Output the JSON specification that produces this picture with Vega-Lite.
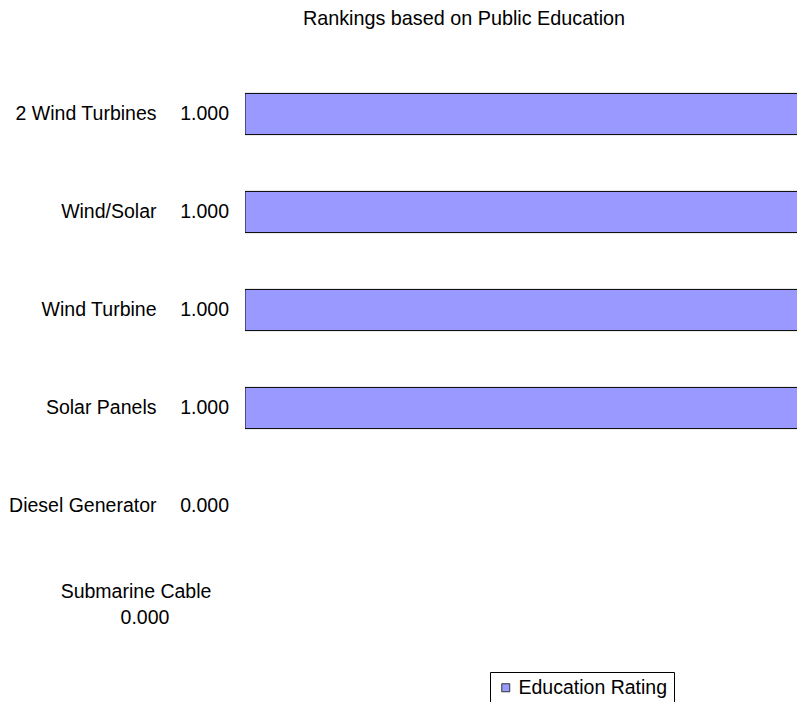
{
  "$schema": "https://vega.github.io/schema/vega-lite/v6.json",
  "autosize": "none",
  "width": 552,
  "height": 588,
  "padding": {"left": 245, "top": 65, "right": 0, "bottom": 49},
  "background": "white",
  "config": {
    "font": "Liberation Sans",
    "view": {"stroke": null}
  },
  "title": {
    "text": "Rankings based on Public Education",
    "font": "Liberation Sans",
    "fontSize": 19.8,
    "fontWeight": "normal",
    "color": "black",
    "anchor": "middle",
    "frame": "group",
    "baseline": "middle",
    "offset": 26,
    "dx": -57
  },
  "data": {
    "values": [
      {"option": "2 Wind Turbines", "rating": 1, "series": "Education Rating"},
      {"option": "Wind/Solar", "rating": 1, "series": "Education Rating"},
      {"option": "Wind Turbine", "rating": 1, "series": "Education Rating"},
      {"option": "Solar Panels", "rating": 1, "series": "Education Rating"},
      {"option": "Diesel Generator", "rating": 0, "series": "Education Rating"},
      {"option": "Submarine Cable", "rating": 0, "series": "Education Rating"}
    ]
  },
  "encoding": {
    "y": {
      "field": "option",
      "type": "nominal",
      "sort": null,
      "scale": {"paddingInner": 0.58, "paddingOuter": 0.29},
      "axis": {
        "title": null,
        "domain": false,
        "ticks": false,
        "labelFont": "Liberation Sans",
        "labelFontSize": 19.5,
        "labelColor": "black",
        "labelPadding": 89,
        "labelExpr": "datum.value == 'Submarine Cable' ? '' : datum.value"
      }
    }
  },
  "layer": [
    {
      "transform": [{"filter": "datum.rating > 0"}],
      "mark": {"type": "bar", "stroke": "black", "strokeWidth": 1, "clip": true},
      "encoding": {
        "x": {
          "field": "rating",
          "type": "quantitative",
          "scale": {"domain": [0, 0.98], "nice": false},
          "axis": null
        },
        "color": {
          "field": "series",
          "type": "nominal",
          "scale": {"range": ["#9999FF"]},
          "legend": {
            "title": null,
            "orient": "none",
            "legendX": 245,
            "legendY": 607,
            "direction": "vertical",
            "strokeColor": "black",
            "padding": 6,
            "symbolType": "square",
            "symbolSize": 64,
            "symbolStrokeColor": "#333333",
            "symbolStrokeWidth": 1,
            "symbolOpacity": 1,
            "labelFont": "Liberation Sans",
            "labelFontSize": 19.5,
            "labelColor": "black",
            "labelOffset": 3
          }
        }
      }
    },
    {
      "transform": [{"filter": "datum.option != 'Submarine Cable'"}],
      "mark": {"type": "text", "align": "right", "baseline": "middle", "dx": -16, "fontSize": 19.5, "font": "Liberation Sans", "color": "black"},
      "encoding": {
        "x": {"value": 0},
        "text": {"field": "rating", "type": "quantitative", "format": ".3f"}
      }
    },
    {
      "transform": [{"filter": "datum.option == 'Submarine Cable'"}],
      "mark": {"type": "text", "align": "center", "baseline": "middle", "dx": -109, "dy": -12, "fontSize": 19.5, "font": "Liberation Sans", "color": "black"},
      "encoding": {
        "x": {"value": 0},
        "text": {"field": "option", "type": "nominal"}
      }
    },
    {
      "transform": [{"filter": "datum.option == 'Submarine Cable'"}],
      "mark": {"type": "text", "align": "center", "baseline": "middle", "dx": -100, "dy": 14, "fontSize": 19.5, "font": "Liberation Sans", "color": "black"},
      "encoding": {
        "x": {"value": 0},
        "text": {"field": "rating", "type": "quantitative", "format": ".3f"}
      }
    }
  ]
}
